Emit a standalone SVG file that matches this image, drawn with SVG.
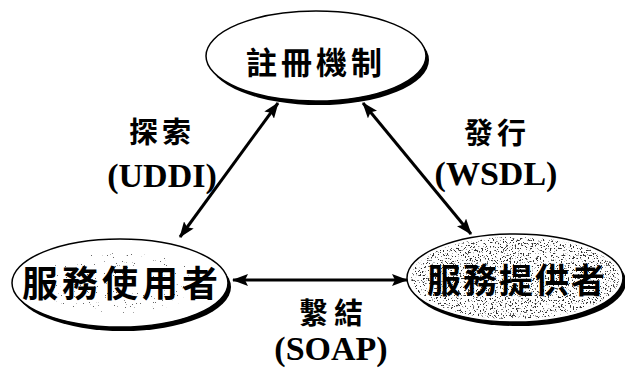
<svg xmlns="http://www.w3.org/2000/svg" width="625" height="372" viewBox="0 0 625 372">
<style>
.shadow{fill:#000}
.node{fill:#fff;stroke:#000;stroke-width:1.5}
.nt{font-family:"Noto Sans CJK TC","Noto Sans CJK SC",sans-serif;font-weight:bold;fill:#000;text-anchor:middle}
.lc{font-family:"Noto Sans CJK TC","Noto Sans CJK SC",sans-serif;font-weight:bold;font-size:29px;fill:#000;text-anchor:middle}
.ll{font-family:"Liberation Serif","Times New Roman",serif;font-weight:bold;font-size:34px;fill:#000;text-anchor:middle}
.conn{stroke:#000;stroke-width:3;fill:none;marker-start:url(#ah);marker-end:url(#ah)}
</style>
<defs>
<marker id="ah" viewBox="0 0 16 12" refX="15" refY="6" markerWidth="16" markerHeight="12" markerUnits="userSpaceOnUse" orient="auto-start-reverse">
<path d="M0,0 L16,6 L0,12 L3,6 z" fill="#000"/>
</marker>
<filter id="speckDense" x="0" y="0" width="1" height="1" color-interpolation-filters="sRGB">
<feTurbulence type="fractalNoise" baseFrequency="0.6" numOctaves="3" seed="7" result="n"/>
<feColorMatrix in="n" type="matrix" values="0 0 0 0 0.2  0 0 0 0 0.2  0 0 0 0 0.2  14 0 0 0 -8.3" result="s"/>
<feComposite in="s" in2="SourceAlpha" operator="in"/>
</filter>
<filter id="speckSparse" x="0" y="0" width="1" height="1" color-interpolation-filters="sRGB">
<feTurbulence type="fractalNoise" baseFrequency="0.9" numOctaves="2" seed="3" result="n"/>
<feColorMatrix in="n" type="matrix" values="0 0 0 0 0.4  0 0 0 0 0.4  0 0 0 0 0.4  40 0 0 0 -29.5" result="s"/>
<feComposite in="s" in2="SourceAlpha" operator="in"/>
</filter>
</defs>

<g id="connectors">
<line class="conn" x1="278" y1="103" x2="180" y2="237"/>
<line class="conn" x1="363" y1="103" x2="471" y2="234"/>
<line class="conn" x1="233" y1="280" x2="407" y2="280"/>
</g>

<g id="registry">
<ellipse class="shadow" cx="319" cy="60" rx="110" ry="45"/>
<ellipse class="node" cx="316" cy="56" rx="110" ry="45"/>
<text class="nt" x="316" y="74" font-size="31" letter-spacing="4">註冊機制</text>
</g>

<g id="consumer">
<ellipse class="shadow" cx="123" cy="287" rx="108" ry="44"/>
<ellipse class="node" cx="120" cy="283" rx="108" ry="44"/>
<ellipse cx="120" cy="283" rx="80" ry="30" fill="#fff" filter="url(#speckSparse)"/>
<text class="nt" x="122" y="297" font-size="36" letter-spacing="4">服務使用者</text>
</g>

<g id="provider">
<ellipse class="shadow" cx="518" cy="282" rx="108" ry="44"/>
<ellipse class="node" cx="515" cy="278" rx="108" ry="44"/>
<ellipse cx="515" cy="278" rx="104" ry="41" fill="#fff" filter="url(#speckDense)"/>
<text class="nt" x="517" y="293" font-size="34" letter-spacing="2">服務提供者</text>
</g>

<g id="labels">
<text class="lc" x="162" y="143" letter-spacing="4">探索</text>
<text class="ll" x="162" y="187">(UDDI)</text>
<text class="lc" x="497" y="144" letter-spacing="4">發行</text>
<text class="ll" x="496" y="185">(WSDL)</text>
<text class="lc" x="334" y="324" letter-spacing="6">繫結</text>
<text class="ll" x="331" y="360">(SOAP)</text>
</g>
</svg>
